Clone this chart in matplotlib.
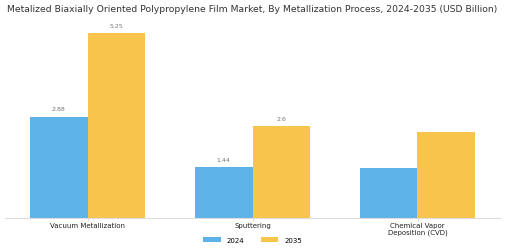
import numpy as np
import matplotlib
matplotlib.use("Agg")
import matplotlib.pyplot as plt

categories = ["Vacuum Metallization", "Sputtering", "Chemical Vapor\nDeposition (CVD)"]
years = ["2024", "2035"]
values_2024 = [2.88, 1.44, 1.43]
values_2035 = [5.25, 2.6, 2.45]
labels_2024 = ["2.88", "1.44", ""]
labels_2035 = ["5.25", "2.6", ""]

blue = "#5DB3E8"
yellow = "#F9C44C"

fig = plt.figure(figsize=(5.05, 2.53), dpi=100)
ax = fig.add_axes([5 / 505, (253 - 219) / 253, 495 / 505, 199 / 253])

x = np.arange(len(categories))
w = 0.35
b1 = ax.bar(x - w / 2, values_2024, w, color=blue, label=years[0])
b2 = ax.bar(x + w / 2, values_2035, w, color=yellow, label=years[1])

for bars, labs in [(b1, labels_2024), (b2, labels_2035)]:
    for bar, lab in zip(bars, labs):
        if lab:
            ax.text(bar.get_x() + bar.get_width() / 2, bar.get_height() + 0.15, lab,
                    ha="center", va="bottom", fontsize=4.5, color="#777777")

ax.set_xlim(-0.5, 2.5)
ax.set_ylim(0, 199 / 35.2)
ax.set_yticks([])
ax.set_xticks(x)
ax.set_xticklabels(categories, fontsize=5, color="#222222", linespacing=1.1)
ax.tick_params(axis="x", length=2, width=0.5, color="#cccccc", pad=1)
for s in ["top", "right", "left"]:
    ax.spines[s].set_visible(False)
ax.spines["bottom"].set_color("#dddddd")
ax.spines["bottom"].set_linewidth(0.8)

fig.text(0.5, 1 - 10 / 253, "Metalized Biaxially Oriented Polypropylene Film Market, By Metallization Process, 2024-2035 (USD Billion)",
         ha="center", va="center", fontsize=6.7, color="#333333")

fig.legend(loc="center", bbox_to_anchor=(0.5, 1 - 241 / 253), ncol=2, frameon=False,
           fontsize=5, handlelength=2.5, handleheight=0.6, columnspacing=2.5)

fig.savefig("out.png", dpi=100)
